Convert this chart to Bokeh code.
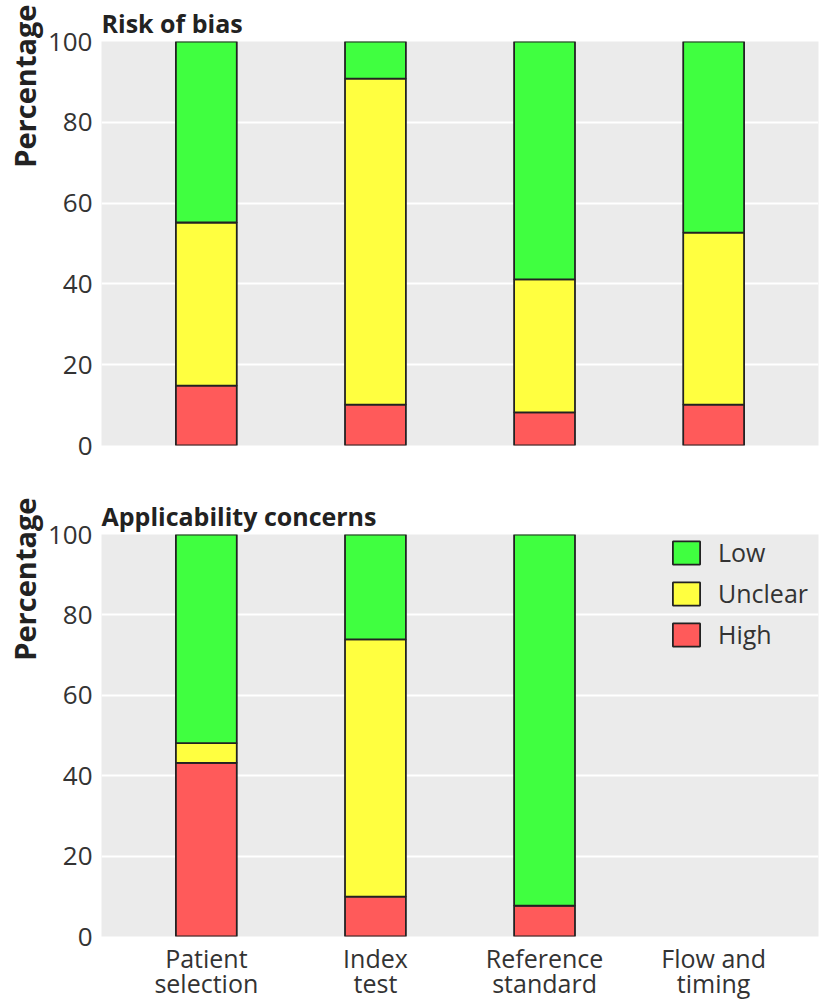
import numpy as np
from bokeh.plotting import figure
from bokeh.models import FactorRange, Range1d, FixedTicker, Legend, LegendItem, Title, ColumnDataSource
from bokeh.layouts import column
from bokeh.embed import file_html
from bokeh.resources import INLINE

# ---- data ----
domains = ["Patient\nselection", "Index\ntest", "Reference\nstandard", "Flow and\ntiming"]
levels = ["High", "Unclear", "Low"]
legend_order = ["Low", "Unclear", "High"]
y_ticks = [0, 20, 40, 60, 80, 100]

rob_high = [14.8, 10.1, 8.2, 10.1]
rob_unclear = [40.4, 80.7, 32.9, 42.6]
rob_low = [44.8, 9.2, 58.9, 47.3]

app_high = [43.2, 9.9, 7.7, np.nan]
app_unclear = [4.9, 64.0, 0.0, np.nan]
app_low = [51.9, 26.1, 92.3, np.nan]

colors = {"High": "#FF5A5A", "Unclear": "#FFFF40", "Low": "#40FF40"}
FONT = "Open Sans"
TXT = "#333333"
DARK = "#222222"


def make_panel(title, high, unclear, low, height, b_top, b_bottom, show_x, show_legend):
    src = ColumnDataSource(dict(domain=domains, High=high, Unclear=unclear, Low=low))
    p = figure(x_range=FactorRange(*domains, range_padding=0.12, range_padding_units="absolute"),
               y_range=Range1d(0, 100), width=820, height=height,
               output_backend="svg", toolbar_location=None,
               min_border_left=101, min_border_right=2,
               min_border_top=b_top, min_border_bottom=b_bottom)
    rs = p.vbar_stack(levels, x="domain", width=0.36, source=src,
                      fill_color=[colors[l] for l in levels],
                      line_color=DARK, line_width=1.8)
    p.background_fill_color = "#EBEBEB"
    p.border_fill_color = "white"
    p.outline_line_color = None
    p.xgrid.visible = False
    p.ygrid.grid_line_color = "white"
    p.ygrid.grid_line_width = 2

    p.yaxis.ticker = FixedTicker(ticks=y_ticks)
    p.yaxis.axis_line_color = None
    p.yaxis.major_tick_line_color = None
    p.yaxis.minor_tick_line_color = None
    p.yaxis.major_tick_out = 0
    p.yaxis.major_tick_in = 0
    p.yaxis.major_label_standoff = 9
    p.yaxis.major_label_text_font = FONT
    p.yaxis.major_label_text_font_size = "26px"
    p.yaxis.major_label_text_color = TXT

    if show_x:
        p.xaxis.axis_line_color = None
        p.xaxis.major_tick_line_color = None
        p.xaxis.major_tick_out = 0
        p.xaxis.major_tick_in = 0
        p.xaxis.major_label_standoff = 4
        p.xaxis.major_label_text_font = FONT
        p.xaxis.major_label_text_font_size = "25px"
        p.xaxis.major_label_text_color = TXT
        p.xaxis.major_label_text_line_height = 0.76
    else:
        p.xaxis.visible = False

    p.title.text = title
    p.title.text_font = FONT
    p.title.text_font_size = "25px"
    p.title.text_font_style = "bold"
    p.title.text_color = DARK
    p.title.align = "left"
    p.title.offset = 0
    p.title.standoff = 3

    ylab = Title(text="Percentage", align="right", offset=-37, standoff=2,
                 text_font=FONT, text_font_size="29px", text_font_style="bold",
                 text_color=DARK)
    p.add_layout(ylab, "left")

    if show_legend:
        by = dict(zip(levels, rs))
        legend = Legend(items=[LegendItem(label=l, renderers=[by[l]]) for l in legend_order],
                        location="top_right", margin=0, padding=1, spacing=7,
                        glyph_width=34, glyph_height=29, label_standoff=15, label_width=99,
                        label_text_font=FONT, label_text_font_size="25px",
                        label_text_color=TXT,
                        background_fill_alpha=0, border_line_alpha=0)
        p.add_layout(legend)
    return p


p1 = make_panel("Risk of bias", rob_high, rob_unclear, rob_low, 475, 41, 30, False, False)
p2 = make_panel("Applicability concerns", app_high, app_unclear, app_low, 528, 59, 66, True, True)

layout = column(p1, p2, spacing=0)
open("out.html", "w").write(file_html(layout, INLINE))
